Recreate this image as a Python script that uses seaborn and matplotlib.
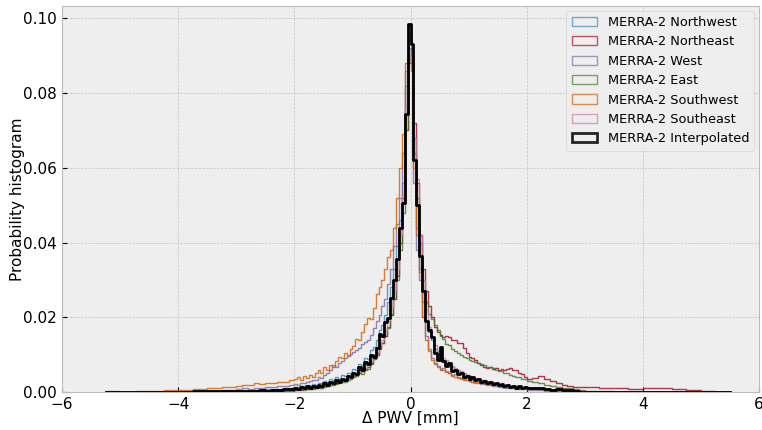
import numpy as np
import pandas as pd
import matplotlib
matplotlib.use("Agg")
import matplotlib.pyplot as plt
from matplotlib.patches import Patch
import seaborn as sns

# ---- bin edges (shared): coarse tails, medium flanks, fine core ----
tail_left_edges = np.arange(-5.25, -3.0, 0.25)
mid_left_edges = np.arange(-3.0, -2.0, 0.1)
core_edges = np.arange(-2.0, 2.0, 0.05)
mid_right_edges = np.arange(2.0, 3.0, 0.1)
tail_right_edges = np.arange(3.0, 5.5001, 0.25)
bin_edges = np.round(np.concatenate([tail_left_edges, mid_left_edges, core_edges,
                                     mid_right_edges, tail_right_edges]), 4)
bin_centers = (bin_edges[:-1] + bin_edges[1:]) / 2

labels = ["MERRA-2 Northwest", "MERRA-2 Northeast", "MERRA-2 West",
          "MERRA-2 East", "MERRA-2 Southwest", "MERRA-2 Southeast",
          "MERRA-2 Interpolated"]

northwest = [
    0.0002, 0, 0, 0, 0.0001, 0.0001, 0.0002, 0.0002, 0.0003,
    0.0003, 0.0004, 0.0005, 0.0005, 0.0006, 0.0007, 0.0008, 0.0009, 0.0010, 0.0012,
    0.0014, 0.0012, 0.0016, 0.0015, 0.0018, 0.0017, 0.0021, 0.0020, 0.0025, 0.0023,
    0.0029, 0.0027, 0.0034, 0.0031, 0.0039, 0.0036, 0.0045, 0.0043, 0.0052, 0.0050,
    0.0062, 0.0058, 0.0076, 0.0072, 0.0092, 0.0088, 0.0112, 0.0120, 0.0140, 0.0165,
    0.0180, 0.0205, 0.0240, 0.0280, 0.0330, 0.0390, 0.0460, 0.0560, 0.0820, 0.0950,
    0.0900, 0.0640, 0.0440, 0.0330, 0.0240, 0.0190, 0.0160, 0.0140, 0.0115, 0.0098,
    0.0090, 0.0082, 0.0078, 0.0070, 0.0066, 0.0060, 0.0056, 0.0052, 0.0048, 0.0045,
    0.0042, 0.0040, 0.0036, 0.0034, 0.0032, 0.0030, 0.0028, 0.0027, 0.0025, 0.0024,
    0.0022, 0.0021, 0.0019, 0.0018, 0.0017, 0.0016, 0.0014, 0.0013, 0.0012, 0.0012,
    0.0011, 0.0010, 0.0009, 0.0007, 0.0006, 0.0005, 0.0004, 0.0003, 0.0003, 0.0002,
    0.0001, 0.0001, 0, 0, 0, 0, 0, 0, 0, 0,
]

northeast = [
    0, 0, 0, 0, 0, 0, 0, 0, 0.0001,
    0.0001, 0.0001, 0.0002, 0.0002, 0.0002, 0.0003, 0.0003, 0.0004, 0.0004, 0.0004,
    0.0005, 0.0007, 0.0006, 0.0008, 0.0007, 0.0009, 0.0011, 0.0010, 0.0013, 0.0012,
    0.0015, 0.0017, 0.0019, 0.0021, 0.0024, 0.0026, 0.0029, 0.0031, 0.0034, 0.0037,
    0.0042, 0.0046, 0.0052, 0.0055, 0.0062, 0.0066, 0.0078, 0.0088, 0.0100, 0.0115,
    0.0130, 0.0150, 0.0175, 0.0205, 0.0250, 0.0310, 0.0400, 0.0520, 0.0700, 0.0880,
    0.0900, 0.0720, 0.0560, 0.0420, 0.0330, 0.0270, 0.0230, 0.0200, 0.0175, 0.0160,
    0.0152, 0.0148, 0.0150, 0.0146, 0.0140, 0.0138, 0.0132, 0.0130, 0.0118, 0.0105,
    0.0094, 0.0090, 0.0085, 0.0078, 0.0072, 0.0068, 0.0064, 0.0066, 0.0062, 0.0064,
    0.0060, 0.0062, 0.0058, 0.0061, 0.0063, 0.0059, 0.0060, 0.0052, 0.0048, 0.0040,
    0.0034, 0.0038, 0.0043, 0.0036, 0.0029, 0.0024, 0.0020, 0.0015, 0.0013, 0.0014,
    0.0013, 0.0012, 0.0010, 0.0009, 0.0011, 0.0010, 0.0008, 0.0005, 0.0002, 0.0001,
]

west = [
    0, 0, 0, 0.0001, 0.0001, 0.0002, 0.0003, 0.0004, 0.0006,
    0.0008, 0.0010, 0.0009, 0.0011, 0.0012, 0.0013, 0.0014, 0.0016, 0.0017, 0.0019,
    0.0022, 0.0020, 0.0025, 0.0023, 0.0028, 0.0030, 0.0033, 0.0031, 0.0040, 0.0037,
    0.0046, 0.0052, 0.0060, 0.0072, 0.0068, 0.0078, 0.0082, 0.0090, 0.0097, 0.0102,
    0.0108, 0.0112, 0.0118, 0.0128, 0.0135, 0.0140, 0.0152, 0.0170, 0.0190, 0.0205,
    0.0230, 0.0250, 0.0290, 0.0330, 0.0390, 0.0450, 0.0520, 0.0640, 0.0880, 0.0920,
    0.0880, 0.0560, 0.0380, 0.0300, 0.0200, 0.0150, 0.0115, 0.0090, 0.0075, 0.0070,
    0.0060, 0.0064, 0.0055, 0.0050, 0.0046, 0.0048, 0.0040, 0.0037, 0.0035, 0.0031,
    0.0030, 0.0027, 0.0025, 0.0024, 0.0021, 0.0022, 0.0019, 0.0018, 0.0016, 0.0017,
    0.0014, 0.0013, 0.0012, 0.0011, 0.0012, 0.0010, 0.0009, 0.0008, 0.0008, 0.0007,
    0.0006, 0.0005, 0.0005, 0.0004, 0.0003, 0.0003, 0.0002, 0.0002, 0.0001, 0.0001,
    0, 0, 0, 0, 0, 0, 0, 0, 0, 0,
]

east = [
    0, 0, 0, 0, 0, 0, 0, 0, 0.0001,
    0.0001, 0.0002, 0.0002, 0.0002, 0.0003, 0.0003, 0.0004, 0.0004, 0.0005, 0.0005,
    0.0006, 0.0005, 0.0007, 0.0006, 0.0008, 0.0007, 0.0009, 0.0010, 0.0012, 0.0011,
    0.0014, 0.0016, 0.0019, 0.0018, 0.0022, 0.0024, 0.0028, 0.0026, 0.0032, 0.0035,
    0.0040, 0.0043, 0.0050, 0.0048, 0.0058, 0.0062, 0.0075, 0.0090, 0.0105, 0.0120,
    0.0130, 0.0150, 0.0172, 0.0210, 0.0250, 0.0300, 0.0380, 0.0480, 0.0700, 0.0900,
    0.0920, 0.0680, 0.0520, 0.0400, 0.0300, 0.0240, 0.0210, 0.0195, 0.0180, 0.0165,
    0.0150, 0.0142, 0.0128, 0.0125, 0.0116, 0.0110, 0.0104, 0.0098, 0.0094, 0.0090,
    0.0086, 0.0084, 0.0080, 0.0078, 0.0074, 0.0072, 0.0068, 0.0068, 0.0063, 0.0060,
    0.0057, 0.0055, 0.0052, 0.0050, 0.0046, 0.0044, 0.0041, 0.0039, 0.0036, 0.0034,
    0.0030, 0.0027, 0.0024, 0.0020, 0.0017, 0.0014, 0.0012, 0.0010, 0.0008, 0.0006,
    0.0004, 0.0002, 0.0001, 0.0001, 0, 0, 0, 0, 0, 0,
]

southwest = [
    0, 0.0001, 0.0002, 0.0003, 0.0005, 0.0006, 0.0009, 0.0010, 0.0013,
    0.0017, 0.0020, 0.0018, 0.0023, 0.0021, 0.0025, 0.0023, 0.0028, 0.0026, 0.0032,
    0.0036, 0.0040, 0.0033, 0.0042, 0.0038, 0.0046, 0.0041, 0.0050, 0.0058, 0.0052,
    0.0066, 0.0060, 0.0072, 0.0068, 0.0083, 0.0095, 0.0090, 0.0104, 0.0100, 0.0116,
    0.0124, 0.0142, 0.0138, 0.0160, 0.0182, 0.0197, 0.0195, 0.0226, 0.0262, 0.0280,
    0.0300, 0.0330, 0.0360, 0.0380, 0.0440, 0.0520, 0.0600, 0.0690, 0.0860, 0.0890,
    0.0860, 0.0600, 0.0420, 0.0320, 0.0200, 0.0140, 0.0110, 0.0085, 0.0078, 0.0066,
    0.0062, 0.0058, 0.0054, 0.0050, 0.0044, 0.0040, 0.0038, 0.0036, 0.0033, 0.0031,
    0.0030, 0.0028, 0.0027, 0.0026, 0.0024, 0.0025, 0.0022, 0.0021, 0.0020, 0.0019,
    0.0019, 0.0017, 0.0016, 0.0015, 0.0014, 0.0013, 0.0013, 0.0012, 0.0010, 0.0011,
    0.0010, 0.0008, 0.0007, 0.0006, 0.0005, 0.0004, 0.0004, 0.0003, 0.0002, 0.0002,
    0.0001, 0, 0, 0, 0, 0, 0, 0, 0, 0,
]

southeast = [
    0, 0, 0, 0, 0, 0.0001, 0.0001, 0.0001, 0.0002,
    0.0002, 0.0003, 0.0003, 0.0004, 0.0004, 0.0005, 0.0005, 0.0006, 0.0006, 0.0007,
    0.0008, 0.0007, 0.0009, 0.0008, 0.0010, 0.0011, 0.0012, 0.0013, 0.0015, 0.0014,
    0.0017, 0.0019, 0.0021, 0.0023, 0.0026, 0.0029, 0.0031, 0.0034, 0.0036, 0.0040,
    0.0045, 0.0049, 0.0054, 0.0059, 0.0064, 0.0072, 0.0082, 0.0094, 0.0108, 0.0125,
    0.0140, 0.0162, 0.0190, 0.0225, 0.0270, 0.0330, 0.0420, 0.0530, 0.0760, 0.0900,
    0.0890, 0.0680, 0.0570, 0.0420, 0.0300, 0.0220, 0.0175, 0.0150, 0.0125, 0.0110,
    0.0098, 0.0092, 0.0085, 0.0078, 0.0070, 0.0064, 0.0058, 0.0055, 0.0050, 0.0046,
    0.0043, 0.0041, 0.0038, 0.0035, 0.0033, 0.0031, 0.0029, 0.0027, 0.0025, 0.0024,
    0.0022, 0.0020, 0.0019, 0.0018, 0.0016, 0.0015, 0.0014, 0.0013, 0.0012, 0.0011,
    0.0010, 0.0009, 0.0008, 0.0007, 0.0006, 0.0005, 0.0004, 0.0003, 0.0002, 0.0002,
    0.0001, 0, 0, 0, 0, 0, 0, 0, 0, 0,
]

interpolated = [
    0, 0, 0.0001, 0.0001, 0.0001, 0.0001, 0.0002, 0.0002, 0.0003,
    0.0003, 0.0002, 0.0004, 0.0003, 0.0005, 0.0004, 0.0006, 0.0005, 0.0008, 0.0007,
    0.0011, 0.0009, 0.0013, 0.0010, 0.0015, 0.0012, 0.0017, 0.0013, 0.0020, 0.0016,
    0.0024, 0.0019, 0.0028, 0.0023, 0.0031, 0.0027, 0.0036, 0.0033, 0.0042, 0.0039,
    0.0052, 0.0047, 0.0066, 0.0060, 0.0081, 0.0074, 0.0100, 0.0094, 0.0118, 0.0156,
    0.0150, 0.0186, 0.0199, 0.0252, 0.0300, 0.0355, 0.0440, 0.0505, 0.0745, 0.0984,
    0.0932, 0.0620, 0.0500, 0.0365, 0.0270, 0.0190, 0.0165, 0.0147, 0.0104, 0.0086,
    0.0120, 0.0084, 0.0070, 0.0078, 0.0056, 0.0060, 0.0047, 0.0052, 0.0041, 0.0044,
    0.0036, 0.0039, 0.0031, 0.0034, 0.0027, 0.0030, 0.0024, 0.0026, 0.0021, 0.0023,
    0.0018, 0.0021, 0.0016, 0.0019, 0.0014, 0.0016, 0.0012, 0.0015, 0.0011, 0.0013,
    0.0012, 0.0010, 0.0011, 0.0008, 0.0006, 0.0007, 0.0005, 0.0005, 0.0004, 0.0001,
    0.0001, 0.0001, 0, 0, 0, 0, 0, 0, 0, 0,
]

series = [northwest, northeast, west, east, southwest, southeast, interpolated]
colors = ["#348ABD", "#A60628", "#7A68A6", "#467821", "#D55E00", "#CC79A7", "black"]
widths = [1.0, 1.0, 1.0, 1.0, 1.0, 1.0, 2.0]
alphas = [0.8, 0.8, 0.8, 0.8, 0.8, 0.8, 1.0]

plt.style.use("bmh")
plt.rcParams["font.family"] = ["DejaVu Sans"]
plt.rcParams["grid.color"] = "#c4c4c4"

fig = plt.figure(figsize=(7.62, 4.30), dpi=100)
ax = fig.add_axes([62 / 762, 38 / 430, 697 / 762, 386 / 430])

edge_list = [float(e) for e in bin_edges]
for vals, col, lw, al in zip(series, colors, widths, alphas):
    df = pd.DataFrame({"x": bin_centers, "w": vals})
    sns.histplot(data=df, x="x", weights="w", bins=edge_list, element="step",
                 fill=False, color=col, linewidth=lw, alpha=al, ax=ax,
                 zorder=3 if lw > 1 else 2)

ax.set_xlim(-6, 6)
ax.set_ylim(0, 0.1033)
ax.set_xticks([-6, -4, -2, 0, 2, 4, 6])
ax.set_yticks([0.0, 0.02, 0.04, 0.06, 0.08, 0.10])
ax.set_yticklabels(["0.00", "0.02", "0.04", "0.06", "0.08", "0.10"])
ax.tick_params(labelsize=11)
ax.set_xlabel("Δ PWV [mm]", fontsize=11, labelpad=-1)
ax.set_ylabel("Probability histogram", fontsize=11, labelpad=-1)

handles = [Patch(facecolor="none", edgecolor=c, linewidth=lw, alpha=al * 0.85)
           for c, lw, al in zip(colors, widths, alphas)]
ax.legend(handles, labels, loc="upper right", fontsize=9.3, borderaxespad=0.35)

fig.savefig("out.png", dpi=100)
